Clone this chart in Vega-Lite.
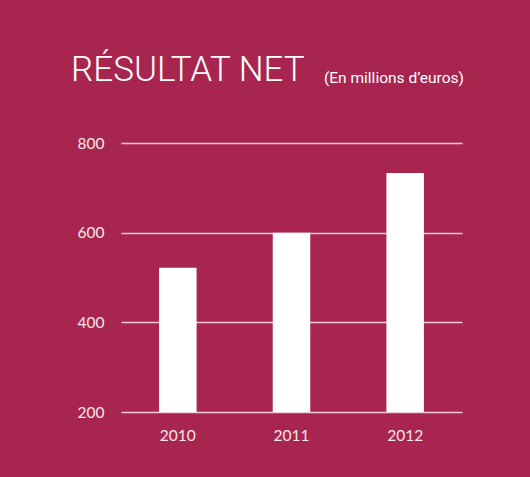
{
  "$schema": "https://vega.github.io/schema/vega-lite/v6.json",
  "autosize": "none",
  "width": 341,
  "height": 269,
  "padding": {"left": 121, "top": 143, "right": 68, "bottom": 65},
  "background": "#a8254f",
  "title": {
    "text": "RÉSULTAT NET",
    "subtitle": "\u200b\u2003\u2003\u2003\u2003\u2003\u2003\u2003\u2003\u2003\u2003\u2003\u2003\u2003\u2003\u2003\u2003(En millions d’euros)",
    "anchor": "start",
    "frame": "group",
    "dx": -50,
    "offset": 48,
    "font": "Roboto",
    "fontSize": 35,
    "fontWeight": 300,
    "color": "#ffffff",
    "subtitleFont": "Roboto",
    "subtitleFontSize": 15.5,
    "subtitleFontWeight": 400,
    "subtitleColor": "#ffffff",
    "subtitlePadding": -17
  },
  "data": {
    "values": [
      {"annee": "2010", "resultat": 522},
      {"annee": "2011", "resultat": 600},
      {"annee": "2012", "resultat": 733}
    ]
  },
  "mark": {"type": "bar", "color": "#ffffff"},
  "encoding": {
    "x": {
      "field": "annee",
      "type": "nominal",
      "scale": {"paddingInner": 0.67, "paddingOuter": 0.335},
      "axis": {
        "title": null,
        "labelAngle": 0,
        "domain": false,
        "ticks": false,
        "labelFont": "Lato",
        "labelFontSize": 15.5,
        "labelColor": "#f6e8ec",
        "labelPadding": 16
      }
    },
    "y": {
      "field": "resultat",
      "type": "quantitative",
      "scale": {"domain": [200, 800], "zero": false, "nice": false},
      "axis": {
        "title": null,
        "values": [200, 400, 600, 800],
        "domain": false,
        "ticks": false,
        "labelFont": "Lato",
        "labelFontSize": 15.5,
        "labelColor": "#f6e8ec",
        "labelPadding": 17,
        "grid": true,
        "gridColor": "#f3cad6",
        "gridWidth": 1.5
      }
    },
    "y2": {"datum": 200}
  },
  "config": {"view": {"stroke": null}}
}
